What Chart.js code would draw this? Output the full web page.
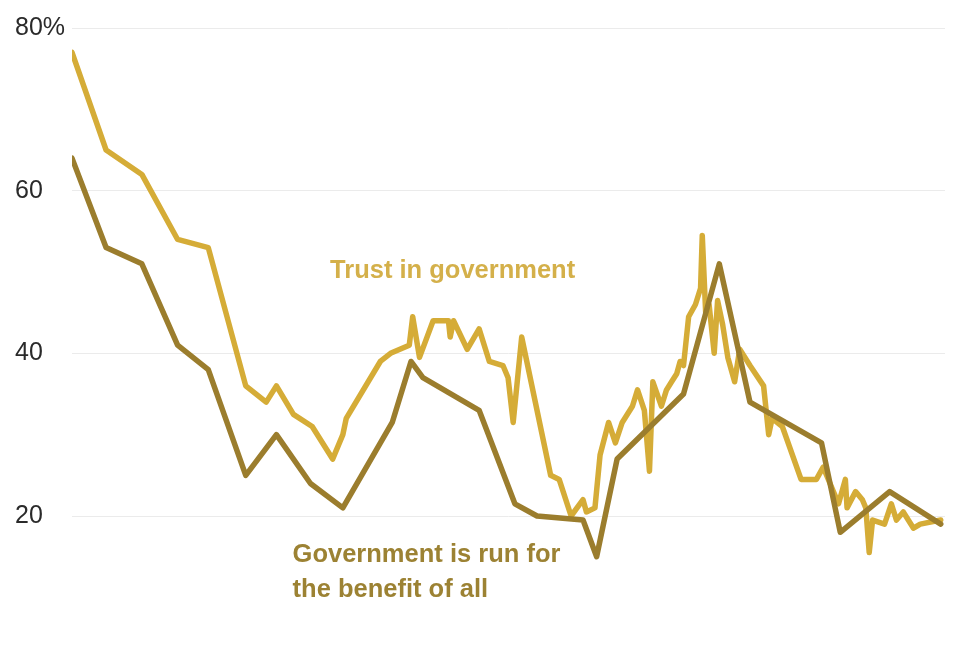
<!DOCTYPE html>
<html>
<head>
<meta charset="utf-8">
<script src="https://cdn.jsdelivr.net/npm/chart.js@4"></script>
<style>
  html, body { margin: 0; padding: 0; background: #fff; }
  #wrap { width: 980px; height: 647px; }
</style>
</head>
<body>
<div id="wrap"><canvas id="grafica" width="980" height="647"></canvas></div>
<script>
var colorTrust = "#d5ac37";
var colorBenefit = "#9b7d2d";

// Trust in government (each survey reading)
var trustYears = [
  1964, 1966, 1968.1, 1970.2, 1972, 1974.2, 1975.4, 1976, 1977, 1978.1,
  1979.3, 1979.9, 1980.1, 1982.1, 1982.7, 1983.8, 1984, 1984.4, 1985.2, 1986.1,
  1986.2, 1986.4, 1987.2, 1987.9, 1988.5, 1989.3, 1989.6, 1989.9, 1990.4, 1992.1,
  1992.6, 1993.3, 1994, 1994.2, 1994.7, 1995, 1995.5, 1995.9, 1996.3, 1996.9,
  1997.2, 1997.6, 1997.9, 1998.1, 1998.6, 1998.9, 1999.2, 1999.5, 1999.7, 1999.9,
  2000.2, 2000.6, 2000.9, 2001, 2001.2, 2001.4, 2001.7, 2001.9, 2002.2, 2002.5,
  2002.9, 2003.2, 2003.8, 2004.6, 2004.9, 2005.1, 2005.7, 2006.8, 2007.7, 2008.1,
  2009, 2009.4, 2009.5, 2010, 2010.4, 2010.6, 2010.8, 2011, 2011.7, 2012.1,
  2012.4, 2012.8, 2013.4, 2013.8, 2015
];
var trustValues = [
  77, 65, 62, 54, 53, 36, 34, 36, 32.5, 31,
  27, 30, 32, 39, 40, 41, 44.5, 39.5, 44, 44,
  42, 44, 40.5, 43, 39, 38.5, 37, 31.5, 42, 25,
  24.5, 20, 22, 20.5, 21, 27.5, 31.5, 29, 31.5, 33.5,
  35.5, 33, 25.5, 36.5, 33.5, 35.5, 36.5, 37.5, 39, 38.5,
  44.5, 46, 48, 54.5, 45, 46, 40, 46.5, 43.5, 39.5,
  36.5, 40.5, 38.5, 36, 30, 32, 31, 24.5, 24.5, 26,
  21.5, 24.5, 21, 23, 22, 21, 15.5, 19.5, 19, 21.5,
  19.5, 20.5, 18.5, 19, 19.5
];

// Government is run for the benefit of all
var benefitYears = [
  1964, 1966, 1968.1, 1970.2, 1972, 1974.2, 1976, 1978, 1979.9, 1982.8,
  1983.9, 1984.6, 1987.9, 1990, 1991.3, 1994, 1994.8, 1996, 1999.9, 2002,
  2003.8, 2008, 2009.1, 2012, 2015
];
var benefitValues = [
  64, 53, 51, 41, 38, 25, 30, 24, 21, 31.5,
  39, 37, 33, 21.5, 20, 19.5, 15, 27, 35, 51,
  34, 29, 18, 23, 19
];

var yTicks = [20, 40, 60, 80];

function puntos(xs, ys) {
  return xs.map(function (x, i) { return { x: x, y: ys[i] }; });
}

// Etiquetas dentro del grafico, ancladas a las escalas
var etiquetas = {
  id: 'etiquetas',
  afterDatasetsDraw: function (chart) {
    var ctx = chart.ctx;
    var sx = chart.scales.x, sy = chart.scales.y;
    ctx.save();
    ctx.font = "bold 25.5px 'Liberation Sans', Arial, sans-serif";
    ctx.textAlign = 'left';
    ctx.textBaseline = 'alphabetic';
    ctx.fillStyle = "#d4b04a";
    ctx.fillText('Trust in government', sx.getPixelForValue(1979.15), sy.getPixelForValue(49.3));
    ctx.fillStyle = "#9c8233";
    ctx.fillText('Government is run for', sx.getPixelForValue(1976.95), sy.getPixelForValue(14.3));
    ctx.fillText('the benefit of all', sx.getPixelForValue(1976.95), sy.getPixelForValue(10.1));
    ctx.restore();
  }
};

var configuracion = {
  type: 'line',
  data: {
    datasets: [{
      label: 'Government is run for the benefit of all',
      data: puntos(benefitYears, benefitValues),
      borderColor: colorBenefit,
      borderWidth: 5.5,
      order: 0
    }, {
      label: 'Trust in government',
      data: puntos(trustYears, trustValues),
      borderColor: colorTrust,
      borderWidth: 5.5,
      order: 1
    }]
  },
  options: {
    responsive: false,
    animation: false,
    layout: { padding: { left: 15, right: 35, top: 28, bottom: 9 } },
    elements: {
      point: { radius: 0 },
      line: { tension: 0, borderJoinStyle: 'round', borderCapStyle: 'round', fill: false }
    },
    plugins: { legend: { display: false }, tooltip: { enabled: false } },
    scales: {
      x: {
        type: 'linear',
        min: 1964,
        max: 2015.25,
        display: false
      },
      y: {
        min: 5,
        max: 80,
        afterBuildTicks: function (axis) {
          axis.ticks = yTicks.map(function (v) { return { value: v }; });
        },
        afterFit: function (axis) {
          axis.width = 57;
          axis.paddingTop = 0;
          axis.paddingBottom = 0;
        },
        border: { display: false },
        grid: { color: '#ebebeb', lineWidth: 1, drawTicks: false },
        ticks: {
          crossAlign: 'far',
          color: '#2a2a2a',
          font: { family: "'Liberation Sans', Arial, sans-serif", size: 25 },
          callback: function (v) { return v === 80 ? v + '%' : v; }
        }
      }
    }
  },
  plugins: [etiquetas]
};

var grafica = new Chart(document.getElementById('grafica'), configuracion);
</script>
</body>
</html>
